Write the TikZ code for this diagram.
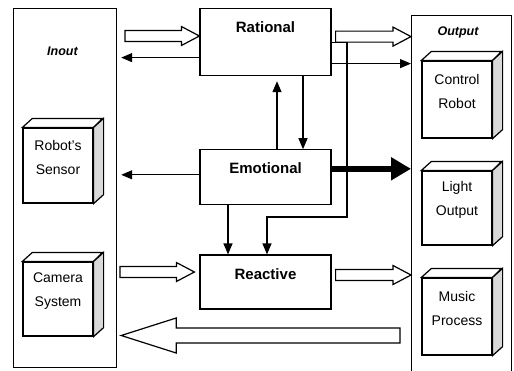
\documentclass[tikz,border=0pt]{standalone}
\usepackage{fontspec}
\setmainfont{Liberation Sans}
\usetikzlibrary{
  calc,
  positioning,
  arrows.meta
}

\begin{document}
\begin{tikzpicture}[x=1pt,y=-1pt,line width=1.2pt,
  >={Triangle[length=11pt,width=9pt]},
  frame/.style={draw, inner sep=0pt, anchor=north west},
  unit/.style={draw, minimum width=131pt, inner sep=0pt, text height=24pt, anchor=north,
    font=\fontsize{15}{18}\selectfont\bfseries},
  box/.style={draw, fill=white, minimum width=70pt},
  cubetext/.style={align=center, yshift=8pt, font=\fontsize{14}{24}\selectfont},
  ttl/.style={font=\fontsize{12.5}{15}\selectfont\bfseries\itshape},
  heavy/.style={line width=6pt, -{Triangle[length=20pt,width=22pt]}},
  fatarrow/.style n args={3}{fill=white, to path={
    let \p1=(\tikztostart), \p2=(\tikztotarget), \n2={\x2-sign(\x2-\x1)*#3} in
    (\x1,\y1+#1pt) -- (\n2,\y1+#1pt) -- (\n2,\y1+#2pt) -- (\x2,\y1)
    -- (\n2,\y1-#2pt) -- (\n2,\y1-#1pt) -- (\x1,\y1-#1pt) -- cycle}},
  hollow/.style={fatarrow={5.5}{9.5}{18}},
  backflow/.style={fatarrow={7.5}{17.5}{55}}]
\useasboundingbox (0,0) rectangle (514,370);

% input and output columns
\node[frame, minimum width=103pt, minimum height=359pt] (input) at (13,8) {};
\node[frame, minimum width=100pt, minimum height=357pt] (output) at (411,15) {};
\node[ttl] (inlab) at (62.5,51) {Inout};
\node[ttl] (outlab) at (458,32) {Output};

\node[box, minimum height=75pt, label={[cubetext]center:{Robot's\\Sensor}}] (sens) at (58,165.5) {};
\node[box, minimum height=74pt, label={[cubetext]center:{Camera\\System}}] (cam) at (58,299) {};
\node[box, minimum height=77pt, label={[cubetext]center:{Control\\Robot}}] (ctrl) at (457,99.5) {};
\node[box, minimum height=74pt, label={[cubetext]center:{Light\\Output}}] (light) at (457,208) {};
\node[box, minimum height=77pt, label={[cubetext]center:{Music\\Process}}] (music) at (457,316.5) {};

\foreach \cb in {sens,cam,ctrl,light,music}{
  \draw[fill=white] (\cb.north west) -- ++(10,-9) -- ++(70,0) -- (\cb.north east) -- cycle;
  \draw[fill=gray!30] (\cb.north east) -- ++(10,-9) -- ([shift={(10,-9)}]\cb.south east)
    -- (\cb.south east) -- cycle;
}

% the three layers
\node[unit, text depth=43pt] (R) at (265.5,8) {Rational};
\node[unit, text depth=31pt, below=73pt of R] (em) {Emotional};
\node[unit, text depth=30pt, below=49pt of em] (re) {Reactive};

\coordinate (h1) at (125,36);
\coordinate (h3) at (120,272);
\coordinate (h5) at (400,335.5);
\coordinate (bend) at (347,217);

% wide arrows
\draw[hollow] (h1) to (R.west);
\draw[hollow] ([shift={(4pt,5.5pt)}]R.east) to (output.west);
\draw[hollow] (h3) to ([xshift=-5pt]re.west);
\draw[hollow] ([shift={(4pt,7pt)}]re.east) to (output.west);
\draw[backflow] (h5) to ([xshift=4pt]input.east);

% plain arrows
\draw[->, shorten >=4pt] ([yshift=-15.5pt]R.west) coordinate (a1) -- (a1 -| input.east);
\draw[->] ([yshift=-21.5pt]R.east) coordinate (a2) -- (a2 -| output.west);
\draw[->] (R.east) -| (bend) -| ([xshift=1.5pt]re.north);
\draw[->, shorten >=5pt] ([xshift=11.5pt]em.north) coordinate (a3) -- (a3 |- R.south);
\draw[->] ([xshift=37.5pt]R.south) coordinate (a4) -- (a4 |- em.north);
\draw[->, shorten >=4pt] ([yshift=2.5pt]em.west) coordinate (a5) -- (a5 -| input.east);
\draw[heavy] ([yshift=8.5pt]em.east) coordinate (a6) -- (a6 -| output.west);
\draw[->] ([xshift=-37.5pt]em.south) coordinate (a7) -- (a7 |- re.north);
\end{tikzpicture}
\end{document}
